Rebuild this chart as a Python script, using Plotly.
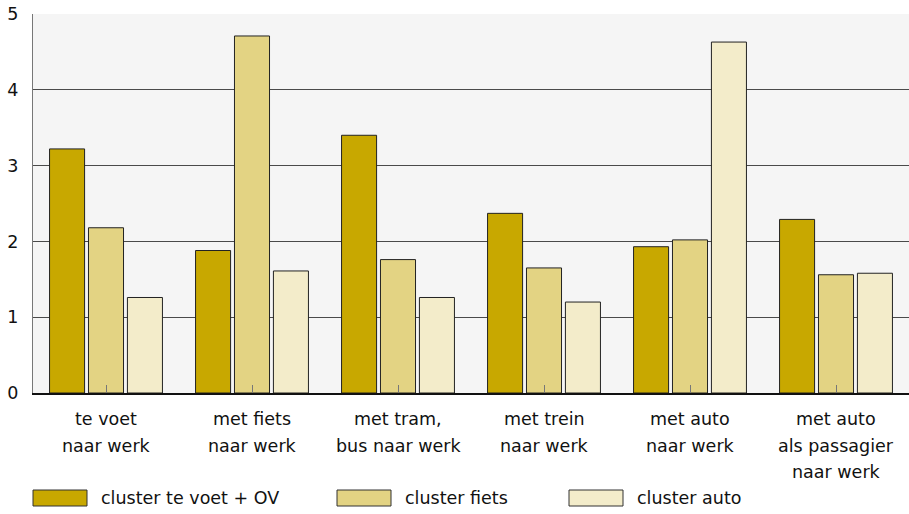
import plotly.graph_objects as go

categories = ["te voet|naar werk", "met fiets|naar werk", "met tram,|bus naar werk",
              "met trein|naar werk", "met auto|naar werk", "met auto|als passagier|naar werk"]
series_names = ["cluster te voet + OV", "cluster fiets", "cluster auto"]
voet_ov = [3.22, 1.88, 3.40, 2.37, 1.93, 2.29]
fiets = [2.18, 4.71, 1.76, 1.65, 2.02, 1.56]
auto = [1.26, 1.61, 1.26, 1.20, 4.63, 1.58]
y_ticks = [0, 1, 2, 3, 4, 5]

colors = ["#c8a800", "#e3d383", "#f3ecca"]
FONT = "DejaVu Sans"
FS = 17.5
TXT = "#111111"

fig = go.Figure()
for name, vals, col in zip(series_names, [voet_ov, fiets, auto], colors):
    fig.add_trace(go.Bar(x=list(range(len(categories))), y=vals, name=name,
                         marker=dict(color=col, line=dict(color="#222222", width=1)),
                         showlegend=False))

# category labels (one annotation per line for exact line spacing)
for i, cat in enumerate(categories):
    for j, line in enumerate(cat.split("|")):
        fig.add_annotation(x=i, y=0, xref="x", yref="y", text=line, showarrow=False,
                           yanchor="middle", yshift=-26 - 26.5 * j,
                           font=dict(family=FONT, size=FS, color=TXT))

# custom legend with wide swatches
leg_x = [33, 337, 569]
for name, col, lx in zip(series_names, colors, leg_x):
    fig.add_shape(type="rect", xref="paper", yref="paper",
                  x0=(lx - 33) / 876, x1=(lx + 54 - 33) / 876,
                  y0=-(490 - 393) / 379, y1=-(506 - 393) / 379,
                  fillcolor=col, line=dict(color="#333333", width=1))
    fig.add_annotation(xref="paper", yref="paper", x=(lx + 66 - 33) / 876,
                       y=-(498 - 393) / 379, text=name, showarrow=False,
                       xanchor="left", yanchor="middle",
                       font=dict(family=FONT, size=FS, color=TXT))

fig.update_layout(
    width=909, height=514,
    margin=dict(l=33, r=0, t=14, b=121, autoexpand=False),
    paper_bgcolor="white", plot_bgcolor="#f5f5f5",
    barmode="group", bargap=0.2, bargroupgap=0.1,
    font=dict(family=FONT, size=FS, color=TXT),
)
fig.update_xaxes(range=[-0.5, 5.5], showticklabels=False, tickvals=list(range(6)),
                 tickson="boundaries", ticks="inside", ticklen=8, tickcolor="#777777",
                 showgrid=False, showline=True, linecolor="#111111", linewidth=1.5,
                 zeroline=False, automargin=False)
fig.update_yaxes(range=[0, 5], tickvals=y_ticks, showgrid=True, gridcolor="#4a4a4a",
                 gridwidth=1.2, showline=True, linecolor="#777777", linewidth=1.2,
                 zeroline=False, ticks="", ticklabelstandoff=10, automargin=False,
                 tickfont=dict(family=FONT, size=FS, color=TXT))

fig.write_html("out.html", config={"displayModeBar": False},
               post_script="document.body.style.margin='0';document.body.style.overflow='hidden';")
